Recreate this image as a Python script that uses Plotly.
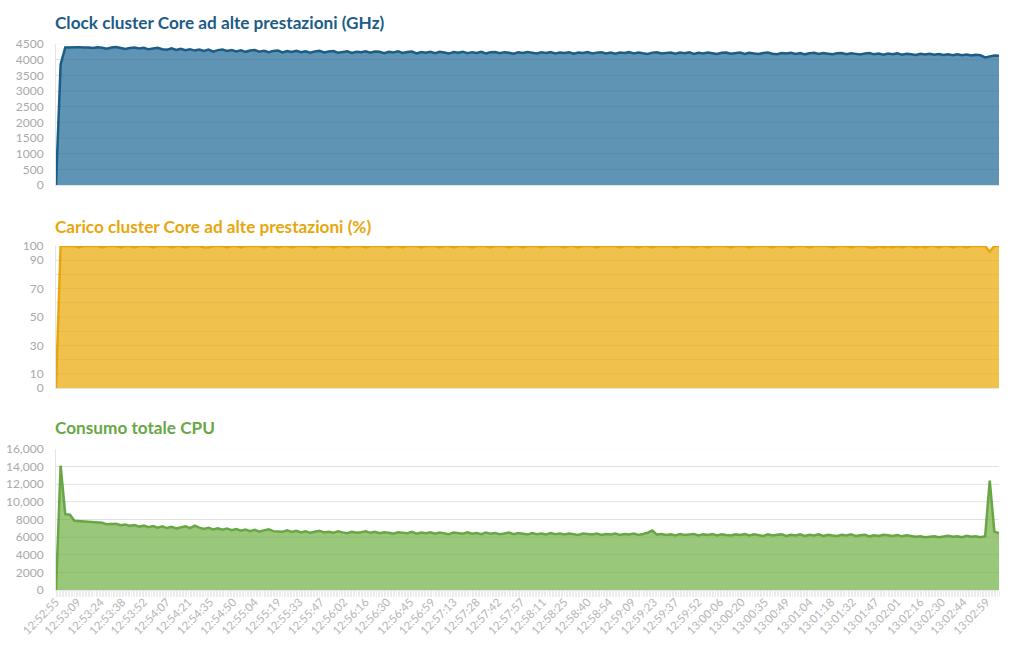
import pandas as pd
import plotly.graph_objects as go

# ---------------- data ----------------
start_time = "2024-01-01 12:52:55"
sample_step_s = 3

clock_mhz = [
    0, 3850, 4390, 4395, 4380, 4400, 4385, 4390, 4370, 4395,
    4380, 4350, 4385, 4400, 4370, 4340, 4370, 4390, 4355, 4380,
    4330, 4360, 4380, 4335, 4320, 4365, 4310, 4345, 4300, 4335,
    4290, 4325, 4280, 4320, 4255, 4305, 4325, 4275, 4305, 4260,
    4300, 4250, 4290, 4305, 4255, 4285, 4240, 4280, 4295, 4230,
    4275, 4245, 4285, 4235, 4270, 4220, 4265, 4280, 4230, 4260,
    4275, 4225, 4255, 4270, 4215, 4255, 4235, 4265, 4220, 4260,
    4250, 4210, 4255, 4230, 4265, 4215, 4245, 4260, 4200, 4245,
    4225, 4255, 4210, 4250, 4230, 4195, 4245, 4220, 4255, 4205,
    4240, 4215, 4250, 4200, 4235, 4245, 4205, 4240, 4220, 4190,
    4235, 4210, 4245, 4215, 4195, 4235, 4215, 4240, 4200, 4230,
    4210, 4235, 4190, 4230, 4210, 4240, 4195, 4225, 4235, 4200,
    4230, 4190, 4225, 4210, 4240, 4195, 4230, 4205, 4185, 4225,
    4235, 4195, 4220, 4230, 4190, 4225, 4205, 4235, 4185, 4220,
    4200, 4230, 4205, 4180, 4220, 4230, 4190, 4215, 4225, 4185,
    4220, 4200, 4180, 4215, 4225, 4190, 4175, 4215, 4195, 4220,
    4185, 4210, 4170, 4205, 4220, 4180, 4210, 4190, 4170, 4205,
    4215, 4175, 4205, 4185, 4165, 4200, 4210, 4170, 4195, 4160,
    4195, 4175, 4200, 4160, 4190, 4170, 4150, 4185, 4165, 4190,
    4155, 4180, 4150, 4175, 4145, 4170, 4140, 4165, 4135, 4160,
    4140, 4070, 4110, 4130, 4125,
]

load_pct = [
    0, 100, 100, 100, 100, 99, 100, 100, 100, 100,
    99, 100, 100, 100, 99, 100, 100, 99, 100, 100,
    100, 99, 100, 100, 100, 99, 100, 100, 99, 100,
    100, 100, 99, 99, 100, 100, 100, 99, 100, 100,
    99, 100, 100, 100, 100, 99, 100, 100, 99, 100,
    100, 99, 100, 100, 100, 100, 99, 100, 100, 100,
    99, 100, 100, 99, 100, 100, 100, 99, 100, 100,
    100, 100, 99, 100, 100, 99, 100, 100, 100, 99,
    100, 100, 100, 99, 100, 100, 99, 100, 100, 100,
    99, 100, 100, 100, 99, 100, 100, 100, 99, 100,
    100, 99, 100, 100, 100, 99, 100, 100, 100, 100,
    99, 100, 100, 99, 100, 100, 100, 99, 100, 100,
    100, 100, 99, 100, 100, 100, 99, 100, 100, 99,
    100, 100, 100, 100, 99, 100, 100, 100, 99, 100,
    100, 99, 100, 100, 100, 100, 99, 100, 100, 100,
    99, 100, 100, 100, 100, 99, 100, 100, 100, 99,
    100, 100, 100, 99, 100, 100, 100, 100, 99, 100,
    100, 100, 99, 100, 100, 100, 99, 99, 100, 99,
    100, 99, 100, 99, 100, 100, 99, 100, 99, 100,
    100, 99, 100, 100, 99, 100, 100, 99, 100, 100,
    100, 100, 96, 100, 100,
]

power = [
    0, 14100, 8600, 8550, 7850, 7800, 7750, 7780, 7650, 7600,
    7620, 7450, 7500, 7520, 7350, 7420, 7280, 7380, 7180, 7300,
    7120, 7260, 7080, 7220, 7030, 7170, 6980, 7120, 7220, 7030,
    7300, 7080, 6930, 7070, 6880, 7000, 6830, 6970, 6780, 6920,
    6730, 6870, 6680, 6820, 6630, 6770, 6900, 6680, 6640, 6600,
    6760, 6580, 6710, 6540, 6670, 6490, 6610, 6720, 6540, 6610,
    6490, 6670, 6540, 6440, 6610, 6490, 6560, 6670, 6490, 6610,
    6440, 6560, 6490, 6390, 6560, 6490, 6440, 6610, 6390, 6510,
    6440, 6560, 6390, 6510, 6440, 6340, 6510, 6440, 6390, 6560,
    6390, 6460, 6340, 6510, 6390, 6460, 6340, 6410, 6510, 6340,
    6460, 6390, 6290, 6460, 6340, 6410, 6290, 6460, 6340, 6410,
    6290, 6410, 6340, 6240, 6410, 6340, 6290, 6410, 6240, 6360,
    6290, 6410, 6240, 6360, 6290, 6410, 6240, 6360, 6500, 6750,
    6290, 6360, 6240, 6310, 6190, 6360, 6240, 6310, 6360, 6190,
    6310, 6240, 6360, 6190, 6310, 6240, 6190, 6310, 6240, 6360,
    6190, 6310, 6240, 6140, 6310, 6190, 6260, 6310, 6140, 6260,
    6190, 6310, 6140, 6260, 6190, 6310, 6140, 6260, 6190, 6140,
    6260, 6190, 6310, 6140, 6210, 6260, 6090, 6210, 6140, 6260,
    6200, 6140, 6250, 6090, 6200, 6140, 6040, 6100, 5990, 6050,
    6100, 5990, 6050, 6150, 6040, 6110, 5990, 6150, 6040, 6100,
    6000, 6100, 12400, 6600, 6450,
]

time_labels = [
    "12:52:55", "12:53:09", "12:53:24", "12:53:38", "12:53:52", "12:54:07",
    "12:54:21", "12:54:35", "12:54:50", "12:55:04", "12:55:19", "12:55:33",
    "12:55:47", "12:56:02", "12:56:16", "12:56:30", "12:56:45", "12:56:59",
    "12:57:13", "12:57:28", "12:57:42", "12:57:57", "12:58:11", "12:58:25",
    "12:58:40", "12:58:54", "12:59:09", "12:59:23", "12:59:37", "12:59:52",
    "13:00:06", "13:00:20", "13:00:35", "13:00:49", "13:01:04", "13:01:18",
    "13:01:32", "13:01:47", "13:02:01", "13:02:16", "13:02:30", "13:02:44",
    "13:02:59",
]

clock_ticks = [0, 500, 1000, 1500, 2000, 2500, 3000, 3500, 4000, 4500]
load_ticks = [0, 10, 30, 50, 70, 90, 100]
load_minor = [20, 40, 60, 80]
power_ticks = [0, 2000, 4000, 6000, 8000, 10000, 12000, 14000, 16000]
power_ticktext = ["0", "2000", "4000", "6000", "8000", "10,000", "12,000", "14,000", "16,000"]

titles = [
    "Clock cluster Core ad alte prestazioni (GHz)",
    "Carico cluster Core ad alte prestazioni (%)",
    "Consumo totale CPU",
]

# ---------------- figure ----------------
x = pd.date_range(start_time, periods=len(clock_mhz), freq=f"{sample_step_s}s")
tickvals = [pd.Timestamp("2024-01-01 " + t) for t in time_labels]

FONT = "Lato"
TICK_GRAY = "#a9a9a9"
GRID = "#ebebeb"

series = [
    dict(y=clock_mhz, line="#1c5c87", fill="rgba(60,125,165,0.82)", title_color="#1c5c87"),
    dict(y=load_pct, line="#e7a70c", fill="rgba(238,186,52,0.88)", title_color="#e7a70c"),
    dict(y=power, line="#68a646", fill="rgba(136,190,100,0.85)", title_color="#68a646"),
]

fig = go.Figure()
axis_names = ["", "2", "3"]
for i, s in enumerate(series):
    fig.add_trace(go.Scatter(
        x=x, y=s["y"], mode="lines",
        line=dict(color=s["line"], width=2.5),
        fill="tozeroy", fillcolor=s["fill"],
        xaxis="x" + axis_names[i], yaxis="y" + axis_names[i],
        hoverinfo="skip", showlegend=False,
    ))

H_PLOT_TOP = 44
H_PLOT_BOT = 590
span = H_PLOT_BOT - H_PLOT_TOP
def dom(top_px, bot_px):
    return [(H_PLOT_BOT - bot_px) / span, (H_PLOT_BOT - top_px) / span]

domains = [dom(44, 185), dom(246, 388), dom(449, 590)]
title_y = [23, 226, 428]

xr = [x[0], x[-1]]
common_x = dict(
    type="date", range=xr, showgrid=False, zeroline=False,
    showline=True, linecolor="#e6e6e6", linewidth=1, automargin=False,
    tickvals=tickvals, ticktext=time_labels, fixedrange=True,
)
tickfont = dict(family=FONT, size=12, color=TICK_GRAY)

layout = dict(
    width=1020, height=653,
    margin=dict(l=56, r=21, t=H_PLOT_TOP, b=653 - H_PLOT_BOT, autoexpand=False),
    paper_bgcolor="white", plot_bgcolor="white",
    hovermode=False,
)

yconf = [
    dict(range=[0, 4500], tickvals=clock_ticks, ticktext=[str(v) for v in clock_ticks]),
    dict(range=[0, 100], tickvals=load_ticks, ticktext=[str(v) for v in load_ticks],
         minor=dict(tickvals=load_minor, showgrid=True, gridcolor=GRID, ticks="")),
    dict(range=[0, 16000], tickvals=power_ticks, ticktext=power_ticktext),
]

for i in range(3):
    xa = dict(common_x)
    xa["anchor"] = "y" + axis_names[i]
    if i < 2:
        xa["showticklabels"] = False
        xa["matches"] = "x3"
    else:
        xa["tickangle"] = -45
        xa["tickfont"] = dict(family=FONT, size=11.5, color="#b5b5b5")
        xa["ticks"] = ""
        xa["minor"] = dict(ticks="outside", ticklen=6, tickcolor="#ececec", dtick=1000, showgrid=False)
    ya = dict(yconf[i])
    ya.update(domain=domains[i], anchor="x" + axis_names[i], showgrid=True, gridcolor=GRID,
              zeroline=False, showline=True, linecolor="#e6e6e6", tickfont=tickfont,
              ticks="", ticklabelstandoff=9, fixedrange=True, automargin=False)
    layout["xaxis" + axis_names[i]] = xa
    layout["yaxis" + axis_names[i]] = ya

fig.update_layout(**layout)

# faint gridlines visible over the filled areas
over_ticks = [clock_ticks, load_ticks + load_minor, power_ticks]
for i in range(3):
    for v in over_ticks[i]:
        if v == 0:
            continue
        fig.add_shape(type="line", xref="x" + axis_names[i] + " domain", x0=0, x1=1,
                      yref="y" + axis_names[i], y0=v, y1=v,
                      line=dict(color="rgba(0,0,0,0.035)", width=1), layer="above")

for i in range(3):
    fig.add_annotation(
        text="<b>" + titles[i] + "</b>", xref="paper", yref="paper",
        x=0, xanchor="left", xshift=-3, y=(H_PLOT_BOT - title_y[i]) / span, yanchor="middle",
        showarrow=False, font=dict(family=FONT, size=17.2, color=series[i]["title_color"]),
    )

fig.write_html("out.html")
